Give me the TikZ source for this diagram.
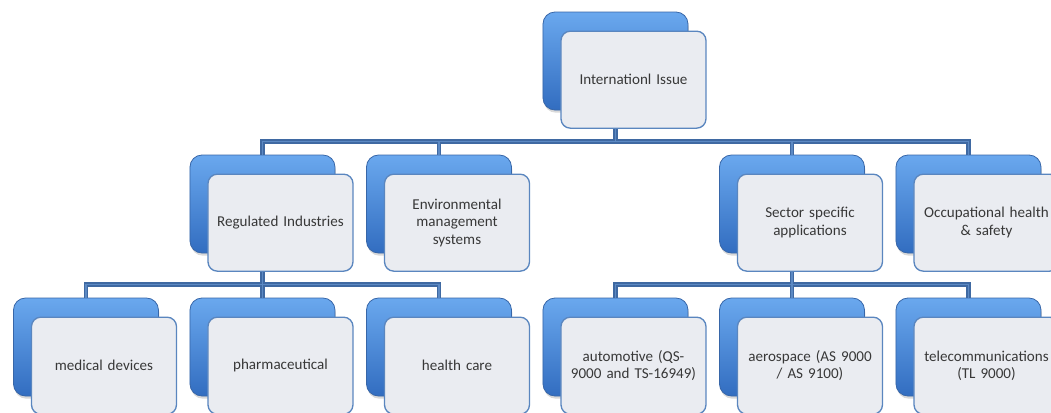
\documentclass[tikz,border=0pt]{standalone}
\usepackage{fontspec}
\setmainfont{Carlito}
\usepackage{tikz}
\usetikzlibrary{shadows}
\definecolor{blueTop}{HTML}{6AA8EE}
\definecolor{blueMid}{HTML}{3F80D4}
\definecolor{blueBot}{HTML}{326DC0}
\definecolor{blueEdge}{HTML}{3766A8}
\definecolor{cardFill}{HTML}{EAECF1}
\definecolor{cardLine}{HTML}{5A86BF}
\definecolor{linkDark}{HTML}{3F69A2}
\definecolor{linkLight}{HTML}{5C89C3}
\definecolor{textGray}{HTML}{383838}
\tikzstyle{back} = [rectangle, rounded corners=9pt, minimum width=108.75pt, minimum height=73.5pt, draw=blueEdge, line width=0.6pt, top color=blueTop, middle color=blueMid, bottom color=blueBot, drop shadow={shadow xshift=0.6pt, shadow yshift=-2pt, opacity=0.3}]
\tikzstyle{front} = [rectangle, rounded corners=7pt, minimum width=108.75pt, minimum height=72.75pt, text width=100pt, align=center, draw=cardLine, line width=1pt, fill=cardFill, text=textGray, font=\fontsize{11.3}{13.2}\selectfont]
\tikzstyle{link} = [draw=linkDark, double=linkLight, line width=1.2pt, double distance=1.3pt]

\begin{document}
\begin{tikzpicture}[node distance=107.25pt]
\useasboundingbox (-461.625pt,-263.25pt) rectangle (326.625pt,45.75pt);
\clip (-461.625pt,-263.25pt) rectangle (326.625pt,45.75pt);

\node (top-b) [back] {};
\node (top) [front] at ([xshift=13.5pt,yshift=-14pt]top-b) {Internationl Issue};

\node (reg-b) [back, below of=top-b, xshift=-264.75pt] {};
\node (reg) [front] at ([xshift=13.5pt,yshift=-14pt]reg-b) {Regulated Industries};
\node (env-b) [back, below of=top-b, xshift=-132.375pt] {};
\node (env) [front] at ([xshift=13.5pt,yshift=-14pt]env-b) {Environmental\\management\\systems};
\node (sec-b) [back, below of=top-b, xshift=132.375pt] {};
\node (sec) [front] at ([xshift=13.5pt,yshift=-14pt]sec-b) {Sector specific\\applications};
\node (occ-b) [back, below of=top-b, xshift=264.75pt] {};
\node (occ) [front] at ([xshift=13.5pt,yshift=-14pt]occ-b) {Occupational health\\\& safety};

\node (med-b) [back, below of=reg-b, xshift=-132.375pt] {};
\node (med) [front] at ([xshift=13.5pt,yshift=-14pt]med-b) {medical devices};
\node (pha-b) [back, below of=reg-b] {};
\node (pha) [front] at ([xshift=13.5pt,yshift=-14pt]pha-b) {pharmaceutical};
\node (hea-b) [back, below of=reg-b, xshift=132.375pt] {};
\node (hea) [front] at ([xshift=13.5pt,yshift=-14pt]hea-b) {health care};

\node (aut-b) [back, below of=sec-b, xshift=-132.375pt] {};
\node (aut) [front] at ([xshift=13.5pt,yshift=-14pt]aut-b) {automotive (QS-\\9000 and TS-16949)};
\node (aer-b) [back, below of=sec-b] {};
\node (aer) [front] at ([xshift=13.5pt,yshift=-14pt]aer-b) {aerospace (AS 9000\\/ AS 9100)};
\node (tel-b) [back, below of=sec-b, xshift=132.375pt] {};
\node (tel) [front] at ([xshift=13.5pt,yshift=-14pt]tel-b) {telecommunications\\(TL 9000)};

\coordinate (bar1) at ([yshift=9.75pt]reg-b.north);
\coordinate (bar2) at ([yshift=9.75pt]med-b.north);

\draw [link] (top-b |- top.south) -- (top-b |- bar1) (reg-b.north) |- (occ-b |- bar1) -- (occ-b.north) (env-b.north) -- (env-b |- bar1) (sec-b.north) -- (sec-b |- bar1);
\draw [link] (reg-b |- reg.south) -- (reg-b |- bar2) (med-b.north) |- (hea-b |- bar2) -- (hea-b.north) (pha-b.north) -- (pha-b |- bar2);
\draw [link] (sec-b |- sec.south) -- (sec-b |- bar2) (aut-b.north) |- (tel-b |- bar2) -- (tel-b.north) (aer-b.north) -- (aer-b |- bar2);
\end{tikzpicture}
\end{document}
